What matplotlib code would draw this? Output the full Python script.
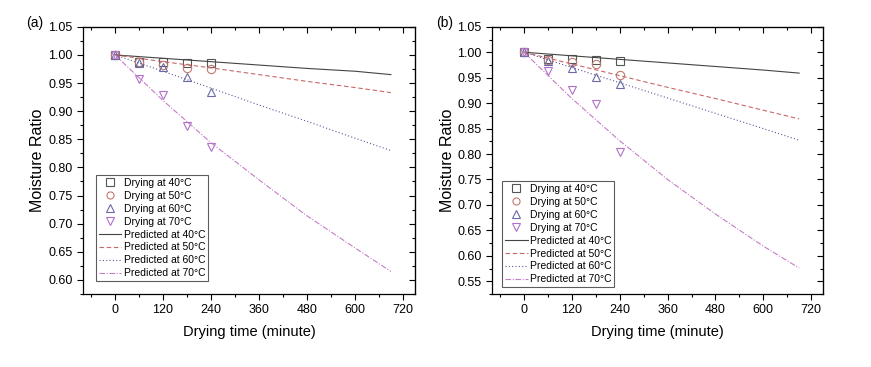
import numpy as np
from matplotlib import pyplot as plt
from matplotlib.ticker import MultipleLocator

plt.rcParams['font.family'] = ['Liberation Sans', 'DejaVu Sans']

# measured points
t_obs = [0, 60, 120, 180, 240]
obs_a = {
    40: [1.000, 0.988, 0.987, 0.985, 0.985],
    50: [1.000, 0.987, 0.982, 0.977, 0.975],
    60: [1.000, 0.986, 0.978, 0.960, 0.934],
    70: [1.000, 0.958, 0.928, 0.873, 0.836],
}
obs_b = {
    40: [1.000, 0.986, 0.987, 0.985, 0.982],
    50: [1.000, 0.985, 0.980, 0.977, 0.956],
    60: [1.000, 0.982, 0.969, 0.952, 0.938],
    70: [1.000, 0.963, 0.925, 0.898, 0.803],
}

# predicted curves
t_pred = [0, 120, 240, 360, 480, 600, 690]
pred_a = {
    40: [1.000, 0.994, 0.988, 0.982, 0.976, 0.971, 0.965],
    50: [1.000, 0.988, 0.977, 0.965, 0.953, 0.942, 0.933],
    60: [1.000, 0.971, 0.941, 0.911, 0.882, 0.852, 0.830],
    70: [1.000, 0.919, 0.844, 0.778, 0.714, 0.657, 0.615],
}
pred_b = {
    40: [1.000, 0.993, 0.986, 0.979, 0.972, 0.965, 0.959],
    50: [1.000, 0.977, 0.954, 0.931, 0.909, 0.886, 0.869],
    60: [1.000, 0.970, 0.940, 0.910, 0.880, 0.850, 0.827],
    70: [1.000, 0.909, 0.826, 0.750, 0.682, 0.619, 0.576],
}

temps = [40, 50, 60, 70]
markers = {40: 's', 50: 'o', 60: '^', 70: 'v'}
mcolors = {40: '#555555', 50: '#c07a72', 60: '#6a6aa6', 70: '#b070c8'}
lcolors = {40: '#444444', 50: '#c86868', 60: '#5a5a98', 70: '#c47cc8'}
lstyles = {40: '-', 50: (0, (4, 2.5)), 60: (0, (1, 2)), 70: (0, (5, 1.5, 1, 1.5))}


def draw_panel(ax, obs, pred, ylim, yticks, tag, leg_anchor):
    for T in temps:
        ax.plot(t_obs, obs[T], linestyle='none', marker=markers[T], ms=6,
                mfc='none', mec=mcolors[T], mew=0.8, label=f'Drying at {T}°C')
    for T in temps:
        ax.plot(t_pred, pred[T], color=lcolors[T], ls=lstyles[T], lw=0.8,
                label=f'Predicted at {T}°C')
    ax.set_xlim(-80, 750)
    ax.set_ylim(*ylim)
    ax.set_xticks([0, 120, 240, 360, 480, 600, 720])
    ax.xaxis.set_minor_locator(MultipleLocator(60))
    ax.set_yticks(yticks)
    ax.yaxis.set_minor_locator(MultipleLocator(0.025))
    ax.set_yticklabels([f'{v:.2f}' for v in yticks])
    ax.tick_params(which='both', direction='out', labelsize=9, width=0.8)
    ax.tick_params(which='major', length=4)
    ax.tick_params(which='minor', length=2.5)
    # mirrored ticks pointing inward on top/right
    top = ax.secondary_xaxis('top')
    top.set_xticks([0, 120, 240, 360, 480, 600, 720])
    top.xaxis.set_minor_locator(MultipleLocator(60))
    top.tick_params(which='both', direction='in', labeltop=False, width=0.8)
    top.tick_params(which='major', length=4)
    top.tick_params(which='minor', length=2.5)
    right = ax.secondary_yaxis('right')
    right.set_yticks(yticks)
    right.yaxis.set_minor_locator(MultipleLocator(0.025))
    right.tick_params(which='both', direction='in', labelright=False, width=0.8)
    right.tick_params(which='major', length=4)
    right.tick_params(which='minor', length=2.5)
    for s in ax.spines.values():
        s.set_linewidth(0.9)
    ax.set_xlabel('Drying time (minute)', fontsize=10.5, labelpad=6)
    ax.set_ylabel('Moisture Ratio', fontsize=11.5, labelpad=2)
    ax.text(-0.17, 1.0, tag, transform=ax.transAxes, fontsize=10)
    leg = ax.legend(loc='lower left', bbox_to_anchor=leg_anchor, fontsize=7.5,
                    frameon=True, fancybox=False, edgecolor='#333333',
                    handlelength=2.2, handletextpad=0.25, labelspacing=0.28,
                    borderpad=0.25, borderaxespad=0, markerscale=0.85)
    leg.get_frame().set_linewidth(0.8)


fig = plt.figure(figsize=(8.71, 3.67), dpi=100)
ax1 = fig.add_axes([0.0953, 0.199, 0.381, 0.728])
ax2 = fig.add_axes([0.565, 0.199, 0.380, 0.728])

draw_panel(ax1, obs_a, pred_a, (0.575, 1.05),
           [0.60, 0.65, 0.70, 0.75, 0.80, 0.85, 0.90, 0.95, 1.00, 1.05],
           '(a)', (0.039, 0.049))
draw_panel(ax2, obs_b, pred_b, (0.525, 1.05),
           [0.55, 0.60, 0.65, 0.70, 0.75, 0.80, 0.85, 0.90, 0.95, 1.00, 1.05],
           '(b)', (0.030, 0.026))

fig.savefig('out.png', dpi=100)
